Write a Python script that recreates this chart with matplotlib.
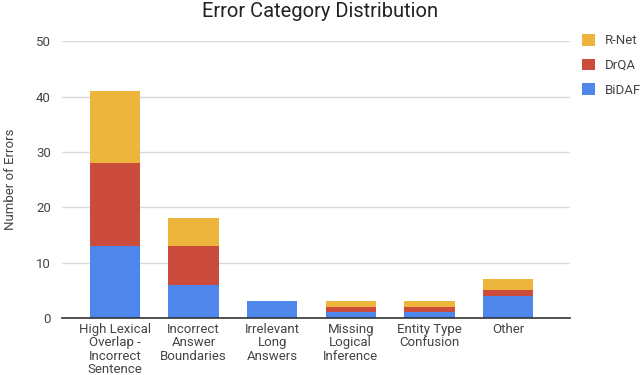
import matplotlib.pyplot as plt
import numpy as np

plt.rcParams['font.family'] = ['Roboto', 'DejaVu Sans']

# Data
categories = ["High Lexical\nOverlap -\nIncorrect\nSentence", "Incorrect\nAnswer\nBoundaries",
              "Irrelevant\nLong\nAnswers", "Missing\nLogical\nInference",
              "Entity Type\nConfusion", "Other"]
bidaf = [13, 6, 3, 1, 1, 4]
drqa = [15, 7, 0, 1, 1, 1]
rnet = [13, 5, 0, 1, 1, 2]

colors = {"BiDAF": "#4f86ec", "DrQA": "#cb4c3c", "R-Net": "#edb53b"}

fig = plt.figure(figsize=(6.4, 3.75), dpi=100)
ax = fig.add_axes([0.097, 0.152, 0.794, 0.738])

x = np.arange(len(categories))
w = 0.64
b1 = ax.bar(x, bidaf, w, color=colors["BiDAF"], label="BiDAF", zorder=3)
bottom2 = np.array(bidaf)
b2 = ax.bar(x, drqa, w, bottom=bottom2, color=colors["DrQA"], label="DrQA", zorder=3)
bottom3 = bottom2 + np.array(drqa)
b3 = ax.bar(x, rnet, w, bottom=bottom3, color=colors["R-Net"], label="R-Net", zorder=3)

ax.set_xlim(-0.67, 5.79)
ax.set_ylim(0, 50)
ax.set_yticks([0, 10, 20, 30, 40, 50])
ax.grid(axis='y', color='#d9d9d9', linewidth=1, zorder=0)
for s in ['top', 'right', 'left']:
    ax.spines[s].set_visible(False)
ax.spines['bottom'].set_color('#333333')
ax.spines['bottom'].set_linewidth(1.2)
ax.spines['bottom'].set_zorder(4)
ax.tick_params(axis='both', length=0, colors='#444444', labelsize=9.5)
ax.tick_params(axis='y', pad=8)
ax.set_xticks(x)
ax.set_xticklabels(categories, linespacing=1.05)

ax.set_ylabel("Number of Errors", color='#444444', fontsize=9.5, labelpad=14)
fig.suptitle("Error Category Distribution", x=0.5, y=0.995, fontsize=14.5, color='#222222')

fig.legend(handles=[b3, b2, b1], labels=["R-Net", "DrQA", "BiDAF"], loc='upper left',
           bbox_to_anchor=(582 / 640, 1 - 34 / 375), frameon=False, handlelength=1.0,
           handleheight=1.0, labelspacing=0.85, fontsize=9.5, labelcolor='#444444',
           borderpad=0, borderaxespad=0, handletextpad=0.75)

fig.savefig("out.png", dpi=100)
